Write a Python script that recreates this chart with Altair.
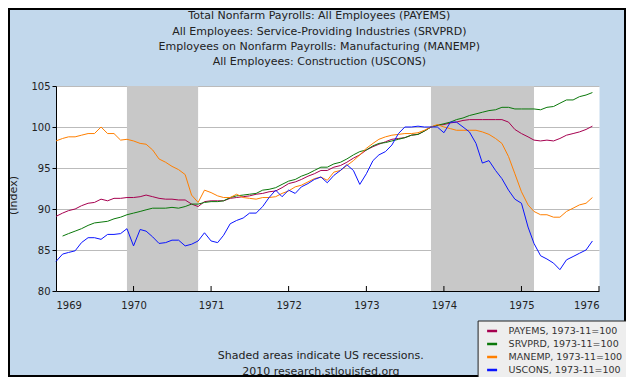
import altair as alt
import pandas as pd

# ---------------- data (index, 1973-11 = 100), monthly Jan 1969 .. Dec 1975
months = pd.date_range("1969-01-01", periods=84, freq="MS").strftime("%Y-%m-%dT00:00:00").tolist()

payems = [89.1, 89.5, 89.8, 90.0, 90.4, 90.7, 90.8, 91.2, 91.0, 91.3, 91.3, 91.4,
          91.4, 91.5, 91.7, 91.5, 91.3, 91.2, 91.2, 91.1, 91.1, 90.6, 90.3, 90.9,
          91.0, 91.0, 91.0, 91.3, 91.4, 91.5, 91.6, 91.8, 91.9, 92.1, 92.2, 92.6,
          93.1, 93.3, 93.6, 94.0, 94.3, 94.7, 94.7, 95.1, 95.3, 95.7, 96.2, 96.6,
          97.2, 97.6, 97.9, 98.2, 98.5, 98.6, 98.7, 99.0, 99.1, 99.5, 100.0, 100.2,
          100.3, 100.5, 100.6, 100.8, 100.9, 100.9, 100.9, 100.9, 100.9, 100.9, 100.6, 99.7,
          99.2, 98.8, 98.4, 98.3, 98.4, 98.3, 98.6, 99.0, 99.2, 99.4, 99.7, 100.1]

srvprd = [None, 86.7, 87.0, 87.3, 87.6, 88.0, 88.3, 88.4, 88.5, 88.8, 89.0, 89.3,
          89.5, 89.7, 89.9, 90.1, 90.1, 90.1, 90.2, 90.1, 90.3, 90.6, 90.6, 90.8,
          90.9, 90.9, 91.0, 91.4, 91.6, 91.7, 91.8, 91.9, 92.3, 92.4, 92.6, 93.0,
          93.4, 93.6, 94.0, 94.3, 94.7, 95.1, 95.1, 95.5, 95.7, 96.1, 96.6, 97.0,
          97.2, 97.7, 98.0, 98.1, 98.3, 98.5, 98.7, 99.0, 99.1, 99.5, 100.0, 100.2,
          100.4, 100.6, 100.9, 101.1, 101.4, 101.6, 101.8, 102.0, 102.1, 102.4, 102.4, 102.2,
          102.2, 102.2, 102.2, 102.1, 102.4, 102.5, 102.9, 103.3, 103.3, 103.7, 103.9, 104.2]

manemp = [98.3, 98.6, 98.8, 98.8, 99.0, 99.2, 99.2, 100.0, 99.2, 99.2, 98.4, 98.5,
          98.3, 98.0, 97.9, 97.2, 96.1, 95.7, 95.2, 94.8, 94.2, 91.7, 90.8, 92.3,
          92.0, 91.6, 91.4, 91.4, 91.8, 91.4, 91.3, 91.2, 91.4, 91.4, 91.5, 91.9,
          92.2, 92.7, 92.9, 93.3, 93.7, 93.9, 93.5, 94.5, 94.7, 95.3, 95.9, 96.6,
          97.4, 98.0, 98.5, 98.8, 99.0, 99.1, 99.2, 99.2, 99.3, 99.6, 100.0, 100.3,
          100.0, 99.8, 99.6, 99.6, 99.6, 99.6, 99.4, 99.1, 98.6, 98.0, 96.4, 94.3,
          92.1, 90.5, 89.7, 89.3, 89.3, 89.0, 89.0, 89.7, 90.1, 90.5, 90.7, 91.4]

uscons = [83.6, 84.5, 84.7, 84.9, 85.9, 86.5, 86.5, 86.3, 86.9, 86.9, 87.0, 87.6,
          85.5, 87.5, 87.3, 86.6, 85.8, 85.9, 86.2, 86.2, 85.5, 85.7, 86.1, 87.1,
          86.1, 85.9, 86.8, 88.2, 88.6, 88.9, 89.5, 89.5, 90.3, 91.4, 92.3, 91.5,
          92.3, 91.9, 92.7, 93.1, 93.6, 93.9, 93.2, 94.1, 94.7, 95.4, 94.7, 93.0,
          94.3, 95.9, 96.6, 97.0, 97.8, 99.2, 100.0, 100.0, 100.1, 100.0, 100.0, 100.0,
          99.3, 100.6, 100.6, 100.0, 99.4, 98.0, 95.6, 95.9, 94.7, 93.7, 92.3, 91.2,
          90.7, 87.8, 85.8, 84.3, 83.9, 83.4, 82.6, 83.8, 84.2, 84.6, 85.0, 86.1]

series_names = ["PAYEMS, 1973-11=100", "SRVPRD, 1973-11=100",
                "MANEMP, 1973-11=100", "USCONS, 1973-11=100"]
series_colors = ["#A6004F", "#0A780A", "#FF7F00", "#0A14FF"]

recession_start = ["1969-12-01T00:00:00", "1973-11-01T00:00:00"]
recession_end = ["1970-11-01T00:00:00", "1975-03-01T00:00:00"]

tick_years = [1970, 1971, 1972, 1973, 1974, 1975, 1976]
y_ticks = [80, 85, 90, 95, 100, 105]

title_lines = ["Total Nonfarm Payrolls: All Employees (PAYEMS)",
               "All Employees: Service-Providing Industries (SRVPRD)",
               "Employees on Nonfarm Payrolls: Manufacturing (MANEMP)",
               "All Employees: Construction (USCONS)"]
footnote_lines = ["Shaded areas indicate US recessions.", "2010 research.stlouisfed.org"]

# ---------------- tables
rows = []
for name, vals in zip(series_names, [payems, srvprd, manemp, uscons]):
    for d, v in zip(months, vals):
        if v is not None:
            rows.append({"date": d, "value": v, "series": name})
lines_df = pd.DataFrame(rows)
rec_df = pd.DataFrame({"start": recession_start, "end": recession_end})
tick_df = pd.DataFrame({"date": [f"{y}-01-01T00:00:00" for y in tick_years]})

W, H = 543, 205
FONT = "DejaVu Sans"

x_scale = alt.Scale(domain=[alt.DateTime(year=1969, month=1, date=1),
                            alt.DateTime(year=1976, month=1, date=1)], nice=False)

recessions = alt.Chart(rec_df).mark_rect(color="#C8C8C8").encode(
    x=alt.X("start:T", scale=x_scale,
            axis=alt.Axis(format="%Y", values=[alt.DateTime(year=y, month=1, date=1) for y in [1969] + tick_years],
                          tickSize=0, labelPadding=9, grid=False, title=None,
                          labelFont=FONT, labelFontSize=10, labelColor="#222",
                          domainColor="#000000", domainWidth=1)),
    x2="end:T",
    y=alt.value(0),
    y2=alt.value(H),
)

lines = alt.Chart(lines_df).mark_line(strokeWidth=1).encode(
    x=alt.X("date:T", scale=x_scale),
    y=alt.Y("value:Q", scale=alt.Scale(domain=[80, 105], nice=False, zero=False),
            axis=alt.Axis(values=y_ticks, tickSize=4, labelPadding=2, tickColor="#000000",
                          domainColor="#000000", domainWidth=1,
                          gridColor="#BBBBBB", gridWidth=1,
                          labelFont=FONT, labelFontSize=10, labelColor="#222",
                          title="(Index)", titleFont=FONT, titleFontSize=11,
                          titleFontWeight="normal", titleColor="#222",
                          titleX=-43, titleY=109, titleBaseline="middle")),
    color=alt.Color("series:N", sort=series_names,
                    scale=alt.Scale(domain=series_names, range=series_colors),
                    legend=alt.Legend(orient="none", legendX=421.6, legendY=234.5,
                                      title=None, fillColor="#EEEEEE", strokeColor="#222222",
                                      padding=4, symbolType="stroke", symbolSize=100,
                                      symbolStrokeWidth=2.5, symbolOffset=4,
                                      labelFont=FONT, labelFontSize=9.5, labelColor="#333333",
                                      labelOffset=10, rowPadding=1)),
)

ticks = alt.Chart(tick_df).mark_rule(color="#000000", strokeWidth=1).encode(
    x=alt.X("date:T", scale=x_scale),
    y=alt.value(H - 5),
    y2=alt.value(H),
)

title = alt.Chart(alt.Data(values=[{}])).mark_text(
    align="center", baseline="top", font=FONT, fontSize=11, color="#222222", lineHeight=15.3
).encode(x=alt.value(263.3), y=alt.value(-75.7), text=alt.value(title_lines))

footnote = alt.Chart(alt.Data(values=[{}])).mark_text(
    align="center", baseline="top", font=FONT, fontSize=11, color="#222222", lineHeight=15.7
).encode(x=alt.value(264.8), y=alt.value(264), text=alt.value(footnote_lines))

border = alt.Chart(alt.Data(values=[{}])).mark_rect(
    fill="transparent", stroke="#000000", strokeWidth=2
).encode(x=alt.value(-47), x2=alt.value(W + 26), y=alt.value(-77), y2=alt.value(H + 85))

chart = alt.layer(recessions, lines, ticks, title, footnote, border).properties(
    width=W, height=H,
    autosize=alt.AutoSizeParams(type="none"),
    padding={"left": 48, "top": 78, "right": 27, "bottom": 86},
    background="#C2D8EC",
).configure_view(fill="white", stroke="transparent")

chart.save("out.html", embed_options={"renderer": "svg", "actions": False})
